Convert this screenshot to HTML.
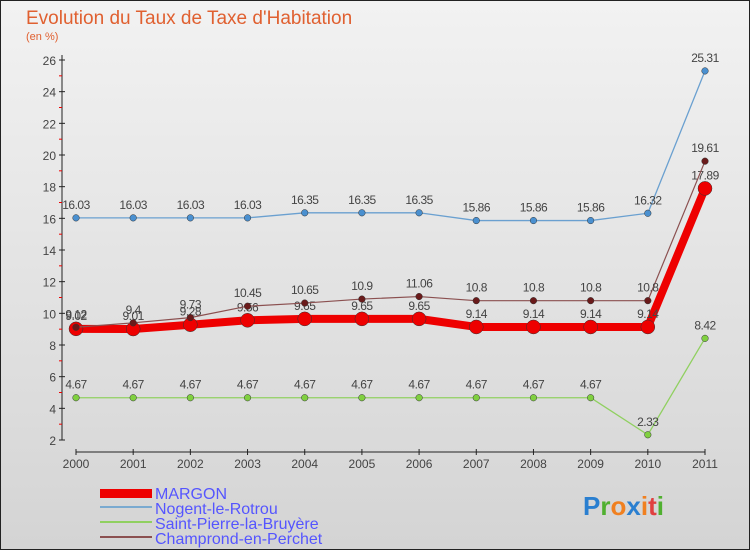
<!DOCTYPE html>
<html><head><meta charset="utf-8"><style>
body{margin:0;width:750px;height:550px;overflow:hidden;font-family:"Liberation Sans",sans-serif}
#c{position:absolute;left:0;top:0;width:748px;height:548px;border:1px solid #222;background:linear-gradient(#f2f2f2,#d4d4d4)}
</style></head><body>
<div id="c"></div>
<svg id="s" width="750" height="550" style="position:absolute;left:0;top:0">
<text x="26" y="24" font-size="19" fill="#e06030">Evolution du Taux de Taxe d'Habitation</text>
<text x="26" y="40" font-size="11" fill="#e06030">(en %)</text>
<g id="axes"></g><g id="series"></g>
<g font-size="16" fill="#5555ff">
<rect x="100" y="489" width="52" height="9" fill="#ee0000"/>
<text x="155" y="499">MARGON</text>
<rect x="100" y="506" width="52" height="2" fill="#7aaad0"/>
<text x="155" y="514">Nogent-le-Rotrou</text>
<rect x="100" y="521" width="52" height="2" fill="#90d060"/>
<text x="155" y="529">Saint-Pierre-la-Bruyère</text>
<rect x="100" y="536" width="52" height="2" fill="#8b5050"/>
<text x="155" y="544">Champrond-en-Perchet</text>
</g>
<text x="583" y="515" font-size="26" font-weight="bold"><tspan fill="#2a7fd0">P</tspan><tspan fill="#50b030">r</tspan><tspan fill="#f08020">o</tspan><tspan fill="#2a7fd0">x</tspan><tspan fill="#f08020">i</tspan><tspan fill="#e04040">t</tspan><tspan fill="#50b030">i</tspan></text>
</svg>
<script>
const years=["2000","2001","2002","2003","2004","2005","2006","2007","2008","2009","2010","2011"];
const yTicks=[2,4,6,8,10,12,14,16,18,20,22,24,26];
const margon=[9.02,9.01,9.28,9.56,9.65,9.65,9.65,9.14,9.14,9.14,9.14,17.89];
const nogent=[16.03,16.03,16.03,16.03,16.35,16.35,16.35,15.86,15.86,15.86,16.32,25.31];
const stpierre=[4.67,4.67,4.67,4.67,4.67,4.67,4.67,4.67,4.67,4.67,2.33,8.42];
const champrond=[9.12,9.4,9.73,10.45,10.65,10.9,11.06,10.8,10.8,10.8,10.8,19.61];
const NS="http://www.w3.org/2000/svg";
const X=i=>76+i*(705-76)/11;
const Y=v=>440-(v-2)*(380/24);
function mk(p,t,a){const e=document.createElementNS(NS,t);for(const k in a)e.setAttribute(k,a[k]);p.appendChild(e);return e;}
const ax=document.getElementById('axes');
let e=mk(ax,'line',{x1:62,y1:55,x2:62,y2:440,stroke:'#222'});


e=mk(ax,'line',{x1:76,y1:452,x2:705,y2:452,stroke:'#222'});


yTicks.forEach(v=>{
 mk(ax,'line',{x1:59,x2:65,y1:Y(v),y2:Y(v),stroke:'#222'});
 if(v<26)mk(ax,'line',{x1:59,x2:62,y1:Y(v+1),y2:Y(v+1),stroke:'#e00'});
 const t=mk(ax,'text',{x:56,y:Y(v)+5,'text-anchor':'end','font-size':12,fill:'#444'});t.textContent=v;
 
 
});
years.forEach((y,i)=>{
 mk(ax,'line',{x1:X(i),x2:X(i),y1:449,y2:455,stroke:'#222'});
 const t=mk(ax,'text',{x:X(i),y:468,'text-anchor':'middle','font-size':12,fill:'#444'});t.textContent=y;
 
 
});
const sg=document.getElementById('series');
function series(data,name,col,w,r,pc){
 const g=mk(sg,'g',{});
 
 
 mk(g,'polyline',{points:data.map((v,i)=>X(i)+','+Y(v)).join(' '),fill:'none',stroke:col,'stroke-width':w,'stroke-linejoin':'round'});
 data.forEach((v,i)=>{
  const c=mk(g,'circle',{cx:X(i),cy:Y(v),r:r,fill:pc,stroke:'#333','stroke-width':0.5});
  
  
  const t=mk(g,'text',{x:X(i),y:Y(v)-9,'text-anchor':'middle','font-size':12,fill:'#444','letter-spacing':'-0.5'});t.textContent=v;
  
  
 });
}
series(nogent,'nogent','#6aa0d0',1.3,3.3,'#4a90d0');
series(stpierre,'saint-pierre','#90d060',1.3,3.3,'#80d040');
series(margon,'margon','#ee0000',8,7,'#ee0000');
series(champrond,'champrond','#8b5050',1.2,3.3,'#6a1a1a');
</script>
</body></html>
